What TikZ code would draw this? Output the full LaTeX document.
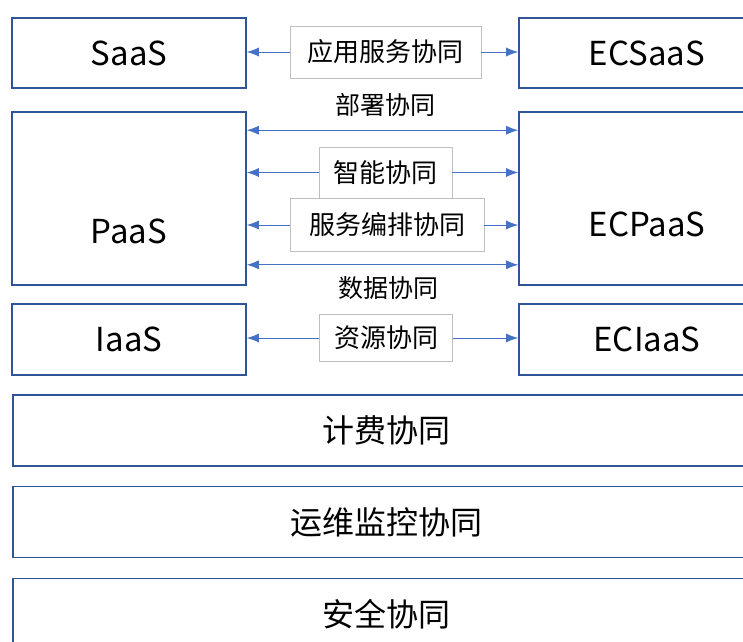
\documentclass[tikz,border=0pt]{standalone}
\usepackage{fontspec}
\setmainfont{Noto Sans CJK SC}
\usepackage{tikz}
\usetikzlibrary{positioning,arrows.meta}
\definecolor{boxblue}{HTML}{2F5597}
\definecolor{arrowblue}{HTML}{4472C4}
\definecolor{tagline}{HTML}{BFBFBF}

\begin{document}
\begin{tikzpicture}[x=1pt, y=1pt, node distance = 518pt, on grid,
box/.style ={draw=boxblue, line width=1.6pt, fill=white, inner sep=0pt, minimum width=234pt, font=\fontsize{33}{33}\selectfont},
ecbox/.style ={box, minimum width=256pt},
bar/.style ={box, anchor=west, minimum width=748pt, minimum height=71pt, font=\fontsize{32}{32}\selectfont},
tag/.style ={draw=tagline, line width=0.8pt, fill=white, inner sep=0pt, font=\fontsize{26}{26}\selectfont},
link/.style ={color=arrowblue, line width=0.9pt, -{Latex[length=12pt,width=9pt]}},
both/.style ={link, {Latex[length=12pt,width=9pt]}-{Latex[length=12pt,width=9pt]}}]
\useasboundingbox (0,0) rectangle (743,-641);
\fill[white] (0,0) rectangle (743,-641);
\clip (0,0) rectangle (743,-641);

% cloud side and edge side
\node[box, minimum height=70pt] (saas) at (129,-53) {SaaS};
\node[ecbox, minimum height=70pt] (ecsaas) [right = of saas] {ECSaaS};
\node[box, minimum height=173pt, label={[yshift=-33pt, font=\fontsize{33}{33}\selectfont]center:PaaS}] (paas) at (129,-198.5) {};
\node[ecbox, minimum height=173pt, label={[yshift=-26pt, font=\fontsize{33}{33}\selectfont]center:ECPaaS}] (ecpaas) [right = of paas] {};
\node[box, minimum height=71pt] (iaas) at (129,-339.5) {IaaS};
\node[ecbox, minimum height=71pt] (eciaas) [right = of iaas] {ECIaaS};

% bars across the full width
\node[bar] (jifei) at (12,-430.5) {计费协同};
\node[bar] (yunwei) at (12,-522) {运维监控协同};
\node[bar] (anquan) at (12,-614) {安全协同};

% arrows between the two sides
\draw[both] ([yshift=-19pt]paas.north east) -- ([yshift=-19pt]ecpaas.north west);
\draw[both] ([yshift=21pt]paas.south east) -- ([yshift=21pt]ecpaas.south west);

\node[tag, minimum width=191pt, minimum height=52pt] (yingyong) at (385.5,-52) {应用服务协同};
\node[tag, minimum width=133pt, minimum height=51pt] (zhineng) at (385.5,-172.5) {智能协同};
\node[tag, minimum width=194pt, minimum height=53pt] (bianpai) at (387,-225) {服务编排协同};
\node[tag, minimum width=133pt, minimum height=47pt] (ziyuan) at (386,-338) {资源协同};
\node[font=\fontsize{25}{25}\selectfont] (bushu) at (385,-105) {部署协同};
\node[font=\fontsize{25}{25}\selectfont] (shuju) at (388,-288) {数据协同};

\path[link] (yingyong) edge (yingyong -| saas.east)
            (yingyong) edge (yingyong -| ecsaas.west)
            (zhineng) edge (zhineng -| paas.east)
            (zhineng) edge (zhineng -| ecpaas.west)
            (bianpai) edge (bianpai -| paas.east)
            (bianpai) edge (bianpai -| ecpaas.west)
            (ziyuan) edge (ziyuan -| iaas.east)
            (ziyuan) edge (ziyuan -| eciaas.west);
\end{tikzpicture}
\end{document}
